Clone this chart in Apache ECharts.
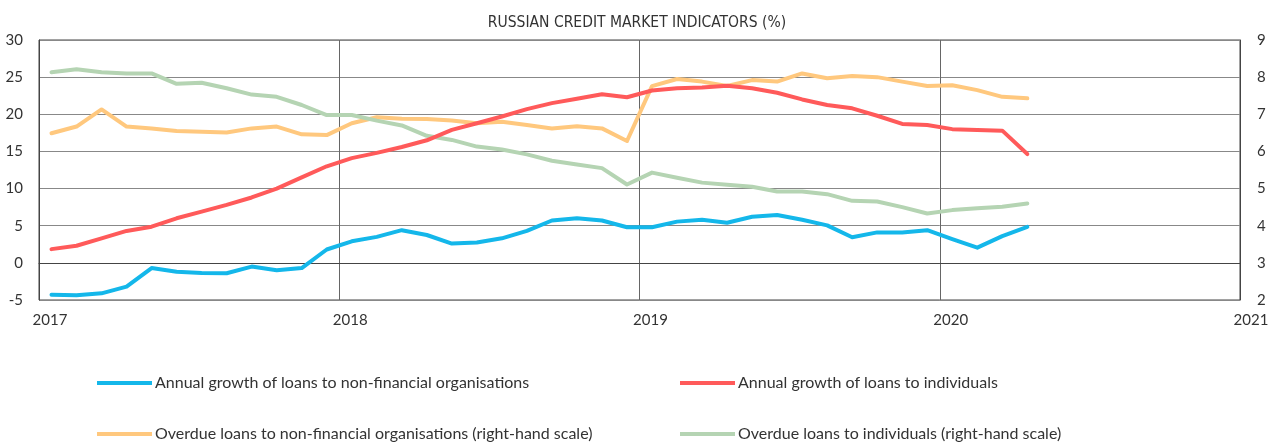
<!DOCTYPE html>
<html>
<head>
<meta charset="utf-8">
<script src="https://cdn.jsdelivr.net/npm/echarts@6/dist/echarts.min.js"></script>
<style>
  html, body { margin: 0; padding: 0; background: #fff; }
  #chart { width: 1274px; height: 444px; }
</style>
</head>
<body>
<div id="chart"></div>
<script>
  // monthly observations, Jan 2017 - Apr 2020
  const months = [
    '2017-01', '2017-02', '2017-03', '2017-04', '2017-05', '2017-06', '2017-07', '2017-08', '2017-09', '2017-10', '2017-11', '2017-12',
    '2018-01', '2018-02', '2018-03', '2018-04', '2018-05', '2018-06', '2018-07', '2018-08', '2018-09', '2018-10', '2018-11', '2018-12',
    '2019-01', '2019-02', '2019-03', '2019-04', '2019-05', '2019-06', '2019-07', '2019-08', '2019-09', '2019-10', '2019-11', '2019-12',
    '2020-01', '2020-02', '2020-03', '2020-04'
  ];

  const yearTicks = [2017, 2018, 2019, 2020, 2021];

  // left scale, %
  const corpGrowth = [
    -4.3, -4.35, -4.1, -3.2, -0.7, -1.2, -1.35, -1.4, -0.5, -1.0, -0.7, 1.8,
    2.9, 3.5, 4.4, 3.75, 2.6, 2.75, 3.3, 4.3, 5.7, 6.0, 5.7, 4.8,
    4.8, 5.55, 5.8, 5.4, 6.2, 6.45, 5.8, 5.05, 3.45, 4.1, 4.1, 4.4,
    3.2, 2.05, 3.6, 4.85
  ];
  const retailGrowth = [
    1.85, 2.3, 3.3, 4.3, 4.87, 6.0, 6.9, 7.8, 8.8, 10.0, 11.5, 13.0,
    14.1, 14.8, 15.6, 16.5, 17.9, 18.8, 19.7, 20.7, 21.5, 22.1, 22.7, 22.3,
    23.2, 23.5, 23.6, 23.85, 23.5, 22.9, 22.0, 21.25, 20.8, 19.8, 18.7, 18.56,
    18.0, 17.9, 17.8, 14.65
  ];

  // right scale, %
  const corpOverdue = [
    6.49, 6.67, 7.13, 6.67, 6.62, 6.55, 6.53, 6.51, 6.62, 6.67, 6.46, 6.44,
    6.76, 6.92, 6.88, 6.87, 6.83, 6.76, 6.80, 6.71, 6.62, 6.68, 6.62, 6.28,
    7.76, 7.95, 7.88, 7.76, 7.92, 7.88, 8.10, 7.97, 8.03, 8.0, 7.88, 7.76,
    7.78, 7.65, 7.47, 7.43
  ];
  const retailOverdue = [
    8.13, 8.21, 8.13, 8.10, 8.10, 7.82, 7.85, 7.70, 7.53, 7.47, 7.25, 6.98,
    6.98, 6.83, 6.70, 6.42, 6.31, 6.13, 6.05, 5.92, 5.75, 5.65, 5.55, 5.11,
    5.43, 5.29, 5.16, 5.10, 5.05, 4.92, 4.92, 4.85, 4.67, 4.65, 4.50, 4.33,
    4.42, 4.47, 4.51, 4.60
  ];

  const names = [
    'Annual growth of loans to non-financial organisations',
    'Annual growth of loans to individuals',
    'Overdue loans to non-financial organisations (right-hand scale)',
    'Overdue loans to individuals (right-hand scale)'
  ];
  const colors = ['#14b7ea', '#ff5a5a', '#ffc87e', '#b5d4b3'];

  // place each month in the middle of its slot on the year axis
  function toPoints(values) {
    return values.map((v, i) => {
      const [y, m] = months[i].split('-').map(Number);
      return [y + (m - 0.5) / 12, v];
    });
  }

  const font = 'Lato, "Noto Sans", sans-serif';

  function legendAt(idx, left, top) {
    return {
      data: [names[idx]],
      left: left,
      top: top,
      padding: 0,
      icon: 'rect',
      itemWidth: 55,
      itemHeight: 4,
      textStyle: { fontSize: 16, color: '#333', fontFamily: font, padding: [0, 0, 0, -2] }
    };
  }

  const option = {
    animation: false,
    title: {
      text: 'RUSSIAN CREDIT MARKET INDICATORS (%)',
      left: 'center',
      top: 10,
      textStyle: {
        fontSize: 15.5,
        fontWeight: 'normal',
        color: '#333',
        fontFamily: '"Liberation Sans Narrow", "DejaVu Sans Condensed", sans-serif'
      }
    },
    grid: {
      left: 39,
      right: 34,
      top: 40,
      bottom: 144,
      show: true,
      borderColor: '#444',
      borderWidth: 1
    },
    legend: [
      legendAt(0, 97, 375),
      legendAt(1, 680, 375),
      legendAt(2, 97, 426),
      legendAt(3, 680, 426)
    ],
    xAxis: {
      type: 'value',
      min: yearTicks[0],
      max: yearTicks[yearTicks.length - 1],
      interval: 1,
      axisLine: { show: true, lineStyle: { color: '#444' } },
      axisTick: { show: false },
      // year labels sit a little right of their gridline, as in the source
      axisLabel: { fontSize: 15, color: '#333', fontFamily: font, margin: 13, padding: [0, 0, 0, 22], formatter: v => String(v) },
      splitLine: { show: true, lineStyle: { color: '#666', width: 1 } }
    },
    yAxis: [
      {
        type: 'value',
        min: -5,
        max: 30,
        interval: 5,
        axisLine: { show: true, lineStyle: { color: '#444' } },
        axisTick: { show: false },
        axisLabel: { fontSize: 15, color: '#333', fontFamily: font, margin: 16 },
        splitLine: { show: true, lineStyle: { color: '#888', width: 1 } }
      },
      {
        type: 'value',
        min: 2,
        max: 9,
        interval: 1,
        position: 'right',
        axisLine: { show: true, lineStyle: { color: '#444' } },
        axisTick: { show: false },
        axisLabel: { fontSize: 15, color: '#333', fontFamily: font, margin: 17 },
        splitLine: { show: false }
      }
    ],
    series: [
      { name: names[2], data: toPoints(corpOverdue), yAxisIndex: 1, color: colors[2] },
      { name: names[3], data: toPoints(retailOverdue), yAxisIndex: 1, color: colors[3] },
      { name: names[1], data: toPoints(retailGrowth), yAxisIndex: 0, color: colors[1] },
      { name: names[0], data: toPoints(corpGrowth), yAxisIndex: 0, color: colors[0] }
    ].map(s => Object.assign({
      type: 'line',
      symbol: 'none',
      lineStyle: { width: 4, color: s.color, cap: 'round', join: 'round' },
      itemStyle: { color: s.color }
    }, s))
  };

  const chart = echarts.init(document.getElementById('chart'));
  chart.setOption(option);
</script>
</body>
</html>
